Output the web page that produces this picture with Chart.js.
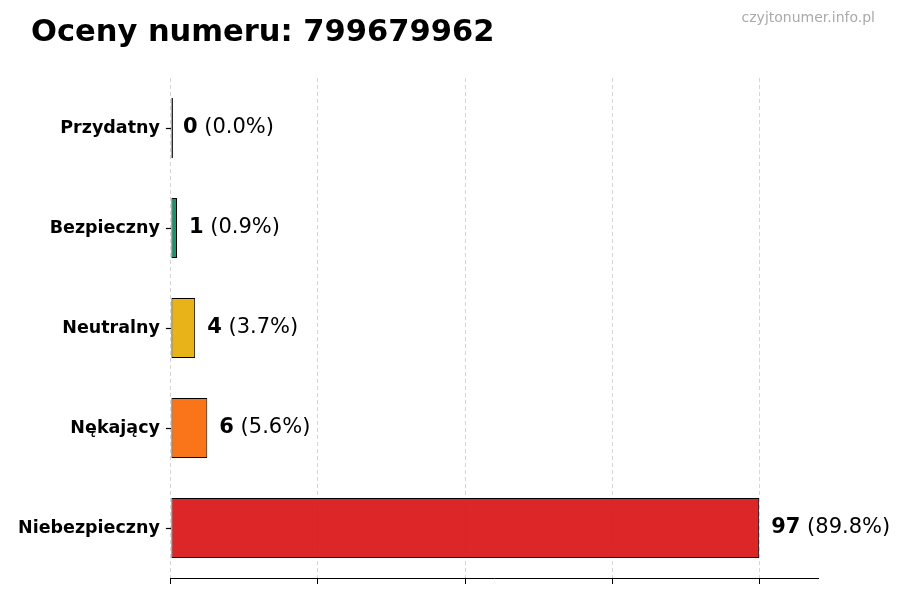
<!DOCTYPE html>
<html>
<head>
<meta charset="utf-8">
<script src="https://cdn.jsdelivr.net/npm/chart.js@4"></script>
<style>
  html, body { margin: 0; padding: 0; background: #fff; }
  #wrap { width: 900px; height: 600px; position: relative; }
</style>
</head>
<body>
<div id="wrap"><canvas id="myChart1"></canvas></div>
<script>
const labels = ['Przydatny', 'Bezpieczny', 'Neutralny', 'Nękający', 'Niebezpieczny'];
const counts = [0, 1, 4, 6, 97];
const colors = ['rgba(0,0,0,0.9)', 'rgba(0,136,88,0.9)', 'rgba(229,170,0,0.9)', 'rgba(249,101,0,0.9)', 'rgba(216,14,16,0.9)'];
const xTicks = [0, 24.25, 48.5, 72.75, 97];
const xMax = 106.7;
const title = 'Oceny numeru: 799679962';
const watermark = 'czyjtonumer.info.pl';

const total = counts.reduce((a, b) => a + b, 0);

// title, watermark and value labels
const decor = {
  id: 'decor',
  afterDatasetsDraw(chart) {
    const ctx = chart.ctx;
    ctx.save();
    ctx.fillStyle = '#000';
    ctx.font = 'bold 30.5px "DejaVu Sans"';
    ctx.textBaseline = 'alphabetic';
    ctx.textAlign = 'left';
    ctx.fillText(title, 31, 41);

    ctx.fillStyle = '#aaaaaa';
    ctx.font = '14px "DejaVu Sans"';
    ctx.textAlign = 'right';
    ctx.fillText(watermark, 875, 22);

    const meta = chart.getDatasetMeta(0);
    meta.data.forEach((bar, i) => {
      let v = counts[i];
      let pct = total ? (v / total * 100).toFixed(1) : '0.0';
      let x = (v === 0 ? chart.chartArea.left : bar.x) + 12;
      let y = bar.y;
      ctx.textAlign = 'left';
      ctx.textBaseline = 'middle';
      ctx.fillStyle = '#000';
      ctx.font = 'bold 21px "DejaVu Sans"';
      let s1 = `${v}`;
      ctx.fillText(s1, x, y);
      let w = ctx.measureText(s1).width;
      ctx.font = '21px "DejaVu Sans"';
      ctx.fillText(` (${pct}%)`, x + w, y);
    });
    ctx.restore();
  }
};

const config = {
  type: 'bar',
  data: {
    labels: labels,
    datasets: [{
      data: counts,
      backgroundColor: colors,
      borderColor: '#000',
      borderWidth: 1,
      borderSkipped: false,
      minBarLength: 2,
      barPercentage: 0.6,
      categoryPercentage: 1.0
    }]
  },
  options: {
    indexAxis: 'y',
    responsive: true,
    maintainAspectRatio: false,
    animation: false,
    layout: { padding: { top: 78, right: 82, bottom: 16, left: 12 } },
    plugins: {
      legend: { display: false },
      tooltip: { enabled: false },
      title: { display: false }
    },
    scales: {
      x: {
        min: 0,
        max: xMax,
        afterBuildTicks: axis => {
          axis.ticks = xTicks.map(v => ({ value: v }));
        },
        ticks: { display: false },
        grid: {
          color: '#d4d4d4',
          lineWidth: 1,
          drawTicks: true,
          tickLength: 6,
          tickColor: '#000',
          tickWidth: 1,
          tickBorderDash: []
        },
        border: { display: true, color: '#000', width: 1, dash: [4, 3] }
      },
      y: {
        ticks: {
          color: '#000',
          font: { family: 'DejaVu Sans', size: 17.5, weight: 'bold' },
          padding: 6
        },
        grid: {
          offset: false,
          drawOnChartArea: false,
          drawTicks: true,
          tickLength: 5,
          tickColor: '#000',
          tickWidth: 1.2
        },
        border: { display: false }
      }
    }
  },
  plugins: [decor]
};

new Chart(document.getElementById('myChart1').getContext('2d'), config);
</script>
</body>
</html>
